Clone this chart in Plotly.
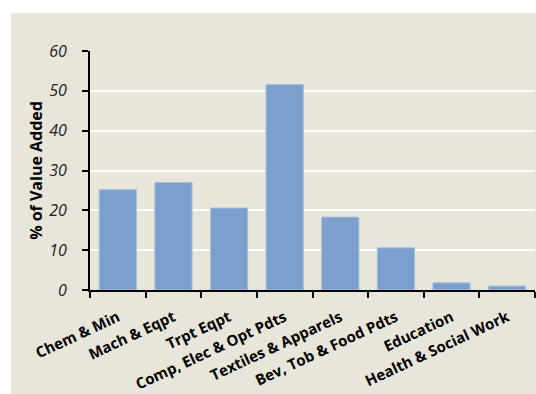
import plotly.graph_objects as go

categories = ["Chem & Min", "Mach & Eqpt", "Trpt Eqpt", "Comp, Elec & Opt Pdts",
              "Textiles & Apparels", "Bev, Tob & Food Pdts", "Education",
              "Health & Social Work"]
values = [25.2, 27.0, 20.6, 51.6, 18.3, 10.6, 1.8, 1.0]
y_ticks = [0, 10, 20, 30, 40, 50, 60]

BG = "#E8E6DA"
BAR = "#7BA0CD"
FONT = "Open Sans"

W, H = 536, 394
L, R, T, B = 90, 1, 51, 104
pw = W - L - R
ph = H - T - B

fig = go.Figure()
fig.add_trace(go.Bar(
    x=categories, y=values,
    marker=dict(color=BAR, line=dict(color="#A9C1DF", width=1)),
))

fig.add_shape(type="rect", xref="paper", yref="paper",
              x0=(11 - L) / pw, x1=(W - L) / pw,
              y0=-(H - T - ph) / ph - 0.01, y1=(T + ph - 13) / ph,
              fillcolor=BG, line=dict(width=0), layer="below")

fig.update_layout(
    width=W, height=H,
    margin=dict(l=L, r=R, t=T, b=B, pad=0, autoexpand=False),
    paper_bgcolor="white", plot_bgcolor=BG,
    bargap=0.33, showlegend=False,
    font=dict(family=FONT, color="black"),
)
fig.update_xaxes(
    type="category", tickson="boundaries", ticks="outside", ticklen=6,
    tickwidth=2, tickcolor="black", showline=True, linecolor="black",
    linewidth=2, tickangle=-25, tickfont=dict(family=FONT, size=15,
    weight="bold", color="black"), showgrid=False, ticklabelstandoff=11,
    automargin=False,
)
fig.update_yaxes(
    range=[0, 60], tickvals=y_ticks, ticks="outside", ticklen=6,
    tickwidth=2, tickcolor="black", showline=True, linecolor="black",
    linewidth=2, gridcolor="white", gridwidth=2, zeroline=False,
    tickfont=dict(family=FONT, size=16, style="italic", color="#222222"),
    ticklabelstandoff=12, automargin=False,
    title=dict(text="% of Value Added", font=dict(family=FONT, size=16,
               weight="bold", color="black"), standoff=3),
)

fig.write_html("out.html")
